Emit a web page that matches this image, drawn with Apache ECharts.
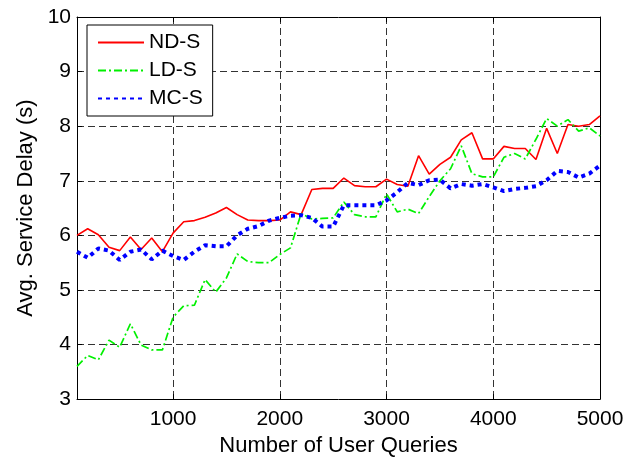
<!DOCTYPE html>
<html>
<head>
<meta charset="utf-8">
<script src="https://cdn.jsdelivr.net/npm/echarts@6/dist/echarts.min.js"></script>
<style>
html,body{margin:0;padding:0;background:#fff;}
#chart{width:628px;height:462px;}
</style>
</head>
<body>
<div id="chart"></div>
<script>
const queries = [100,200,300,400,500,600,700,800,900,1000,
  1100,1200,1300,1400,1500,1600,1700,1800,1900,2000,
  2100,2200,2300,2400,2500,2600,2700,2800,2900,3000,
  3100,3200,3300,3400,3500,3600,3700,3800,3900,4000,
  4100,4200,4300,4400,4500,4600,4700,4800,4900,5000];
const ndS = [6.00,6.12,6.01,5.78,5.72,5.97,5.74,5.95,5.70,6.04,
  6.25,6.27,6.33,6.41,6.51,6.38,6.28,6.27,6.27,6.28,
  6.43,6.38,6.84,6.86,6.86,7.05,6.91,6.89,6.89,7.03,
  6.93,6.90,7.46,7.12,7.30,7.43,7.75,7.88,7.40,7.40,
  7.63,7.59,7.59,7.39,7.96,7.50,8.03,8.00,8.03,8.19];
const ldS = [3.60,3.80,3.72,4.08,3.95,4.38,3.99,3.90,3.90,4.50,
  4.71,4.72,5.19,4.96,5.22,5.66,5.52,5.50,5.50,5.65,
  5.77,6.40,6.30,6.31,6.32,6.61,6.38,6.34,6.34,6.76,
  6.43,6.48,6.40,6.71,7.00,7.22,7.64,7.13,7.07,7.07,
  7.43,7.50,7.40,7.76,8.14,8.00,8.12,7.91,7.97,7.82];
const mcS = [5.70,5.59,5.76,5.72,5.55,5.70,5.74,5.56,5.72,5.62,
  5.55,5.70,5.82,5.80,5.80,6.00,6.12,6.17,6.27,6.32,
  6.36,6.37,6.32,6.16,6.16,6.55,6.55,6.55,6.55,6.64,
  6.79,6.96,6.92,7.01,7.02,6.86,6.94,6.91,6.94,6.88,
  6.81,6.85,6.87,6.90,7.01,7.18,7.16,7.06,7.13,7.28];
const xTicks = [1000,2000,3000,4000,5000];
const seriesNames = ['ND-S','LD-S','MC-S'];
const xName = 'Number of User Queries';
const yName = 'Avg. Service Delay (s)';

const pairs = arr => queries.map((q,i)=>[q,arr[i]]);
const font = 'Liberation Sans, Arial, sans-serif';
const fs = 21;
const gridLine = {show:true,lineStyle:{color:'#333',type:[7,4],width:1}};

const chart = echarts.init(document.getElementById('chart'),null,{renderer:'canvas'});
chart.setOption({
  backgroundColor:'#fff',
  animation:false,
  textStyle:{fontFamily:font,color:'#000'},
  grid:{left:77,right:28,top:17,bottom:55,show:false},
  legend:{
    orient:'vertical',left:87,top:25,
    data:seriesNames.map(n=>({name:n,itemStyle:{opacity:0}})),
    itemWidth:46,itemHeight:14,itemGap:7,
    padding:[7,10,7,10],
    backgroundColor:'#fff',borderColor:'#000',borderWidth:1,
    textStyle:{fontFamily:font,fontSize:fs,color:'#000'}
  },
  xAxis:[{
    type:'value',min:100,max:5000,position:'bottom',
    name:xName,nameLocation:'middle',nameGap:27,
    nameTextStyle:{fontFamily:font,fontSize:22,color:'#000'},
    axisLine:{show:true,onZero:false,lineStyle:{color:'#000',width:1}},
    axisTick:{show:true,inside:true,length:5,customValues:xTicks,lineStyle:{color:'#000'}},
    axisLabel:{show:true,customValues:xTicks,margin:10,fontFamily:font,fontSize:fs,color:'#000',
      formatter:v=>String(v)},
    splitLine:gridLine
  },{
    type:'value',min:100,max:5000,position:'top',
    axisLine:{show:true,onZero:false,lineStyle:{color:'#000',width:1}},
    axisTick:{show:true,inside:true,length:5,customValues:xTicks,lineStyle:{color:'#000'}},
    axisLabel:{show:false},
    splitLine:{show:false}
  }],
  yAxis:[{
    type:'value',min:3,max:10,interval:1,position:'left',
    name:yName,nameLocation:'middle',nameGap:37,
    nameTextStyle:{fontFamily:font,fontSize:22,color:'#000'},
    axisLine:{show:true,onZero:false,lineStyle:{color:'#000',width:1}},
    axisTick:{show:true,inside:true,length:5,lineStyle:{color:'#000'}},
    axisLabel:{margin:6,fontFamily:font,fontSize:fs,color:'#000'},
    splitLine:gridLine
  },{
    type:'value',min:3,max:10,interval:1,position:'right',
    axisLine:{show:true,onZero:false,lineStyle:{color:'#000',width:1}},
    axisTick:{show:true,inside:true,length:5,lineStyle:{color:'#000'}},
    axisLabel:{show:false},
    splitLine:{show:false}
  }],
  series:[{
    name:seriesNames[0],type:'line',data:pairs(ndS),
    symbol:'none',color:'#ff0000',
    lineStyle:{color:'#ff0000',width:1.6}
  },{
    name:seriesNames[1],type:'line',data:pairs(ldS),
    symbol:'none',color:'#00f000',
    lineStyle:{color:'#00f000',width:1.7,type:[8,3,2,3]}
  },{
    name:seriesNames[2],type:'line',data:pairs(mcS),
    symbol:'none',color:'#0000ff',
    lineStyle:{color:'#0000ff',width:4,type:[4,4],cap:'butt'}
  }]
});
</script>
</body>
</html>
